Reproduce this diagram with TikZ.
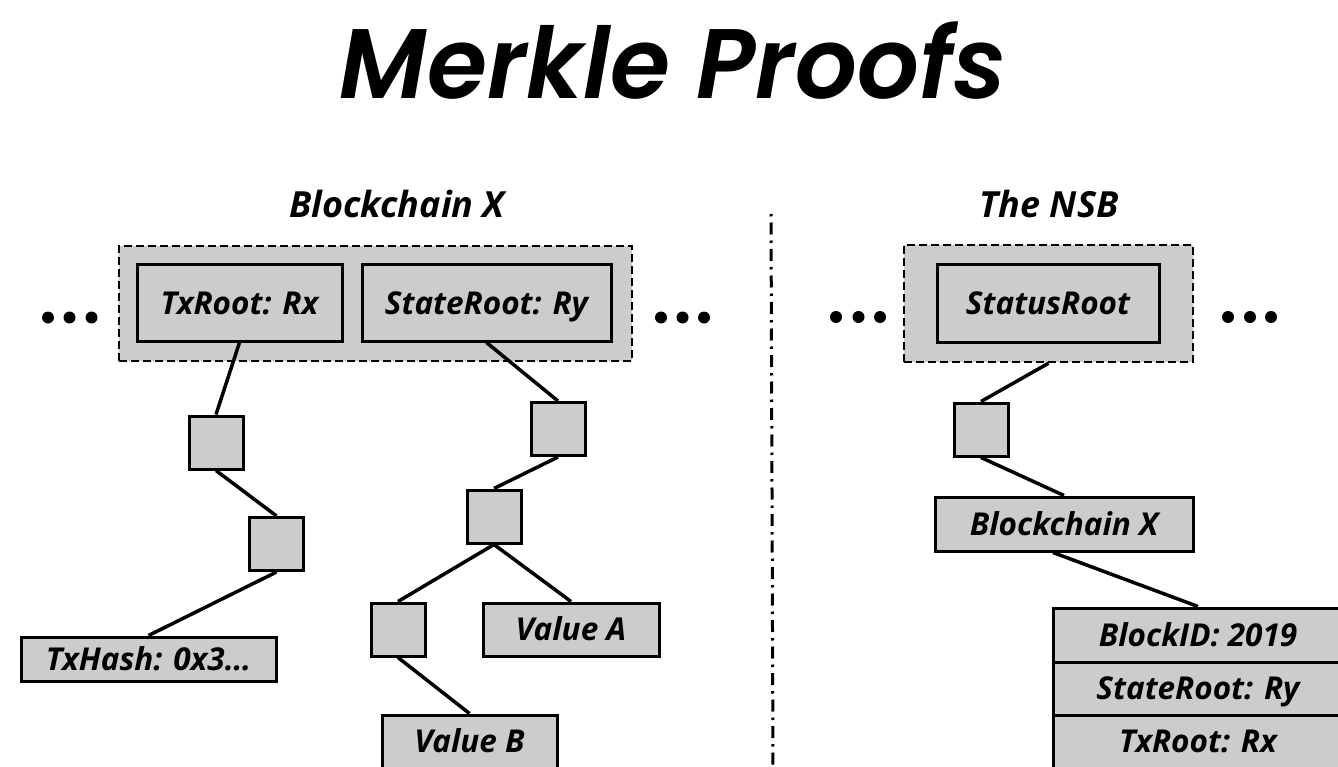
\documentclass[tikz,border=0pt]{standalone}
\usepackage{fontspec}
\usepackage{graphicx}
\newfontfamily\labelfont{Open Sans}
\newfontfamily\titlefont{Poppins}[UprightFont=* SemiBold, ItalicFont=* SemiBold Italic]
\usetikzlibrary{calc}
\definecolor{boxgray}{RGB}{204,204,204}
\tikzset{
  box/.style={draw=black, fill=boxgray, line width=3pt, inner sep=0pt,
    text height=22.5pt, text depth=0pt,
    font=\labelfont\bfseries\itshape\fontsize{31.5}{34}\selectfont},
  hashbox/.style={box, minimum width=54pt, minimum height=53pt},
  group/.style={draw=black, fill=boxgray, line width=2.5pt,
    dash pattern=on 8pt off 4pt, inner sep=0pt},
  heading/.style={anchor=base, inner sep=0pt,
    font=\labelfont\bfseries\itshape\fontsize{36}{40}\selectfont},
  link/.style={line width=3.5pt},
  divider/.style={line width=3pt, dash pattern=on 2.5pt off 6pt on 12pt off 6pt},
  dot/.style={circle, fill=black, inner sep=0pt, minimum size=12pt},
}
\begin{document}
\begin{tikzpicture}[x=1pt,y=-1pt]
  \path[use as bounding box] (0,0) rectangle (1338,767);
  \clip (0,0) rectangle (1338,767);
  \fill[white] (0,0) rectangle (1338,767);

  % title
  \node[anchor=base, inner sep=0pt] (title) at (673,99)
    {\resizebox{666pt}{77pt}{\titlefont\itshape Merkle Proofs}};

  % ---------- Blockchain X ----------
  \node[heading] (hx) at (397,218) {Blockchain X};
  \node[group, minimum width=513pt, minimum height=115pt] (grpx) at (375.5,303.5) {};
  \node[box, minimum width=205pt, minimum height=76pt] (tx) at (239.5,303) {TxRoot: Rx};
  \node[box, minimum width=249pt, minimum height=76pt] (st) at (486.5,303) {StateRoot: Ry};
  \foreach \x [count=\i] in {48,69.5,91.5} \node[dot] (dl\i) at (\x,317.5) {};
  \foreach \x [count=\i] in {661,682.5,704} \node[dot] (dr\i) at (\x,317.5) {};

  % transaction branch
  \node[hashbox] (b1) at (216,442.5) {};
  \node[hashbox] (b2) at (276.5,544) {};
  \node[box, minimum width=255pt, minimum height=44pt] (txh) at (148.5,659) {TxHash: 0x3\ldots};

  % state branch
  \node[hashbox] (b3) at (558,429) {};
  \node[hashbox] (b4) at (494,516.5) {};
  \node[hashbox] (b5) at (398,629.5) {};
  \node[box, minimum width=176pt, minimum height=53pt] (va) at (571,629.5) {Value A};
  \node[box, minimum width=175pt, minimum height=53pt] (vb) at (469.5,741.5) {Value B};

  \draw[link] (tx.south) -- (b1.north);
  \draw[link] (b1.south) -- (b2.north);
  \draw[link] (b2.south) -- (txh.north);
  \draw[link] (st.south) -- (b3.north);
  \draw[link] (b3.south) -- (b4.north);
  \draw[link] (b4.south) -- (b5.north);
  \draw[link] (b4.south) -- (va.north);
  \draw[link] (b5.south) -- (vb.north);

  % separator
  \coordinate (sepT) at (771,214);
  \coordinate (sepB) at (773,770);
  \draw[divider] (sepT) -- (sepB);

  % ---------- The NSB ----------
  \node[heading] (hn) at (1049,218) {The NSB};
  \node[group, minimum width=289pt, minimum height=117pt] (grpn) at (1048.5,303.5) {};
  \node[box, minimum width=222pt, minimum height=77pt] (sr) at (1048,303.5) {StatusRoot};
  \foreach \x [count=\i] in {836,858.5,880} \node[dot] (nl\i) at (\x,317) {};
  \foreach \x [count=\i] in {1228,1250,1271} \node[dot] (nr\i) at (\x,317) {};

  \node[hashbox] (b6) at (981,429.5) {};
  \node[box, minimum width=258pt, minimum height=54pt] (bcx) at (1064,524) {Blockchain X};

  \node[box, minimum width=290pt, minimum height=54pt] (r1) at (1198,635) {BlockID: 2019};
  \node[box, minimum width=290pt, minimum height=53pt] (r2) at (1198,688.5) {StateRoot: Ry};
  \node[box, minimum width=290pt, minimum height=53pt] (r3) at (1198,741.5) {TxRoot: Rx};

  \draw[link] (grpn.south) -- (b6.north);
  \draw[link] (b6.south) -- (bcx.north);
  \draw[link] ([xshift=-11pt]bcx.south) -- (r1.north);
\end{tikzpicture}
\end{document}
